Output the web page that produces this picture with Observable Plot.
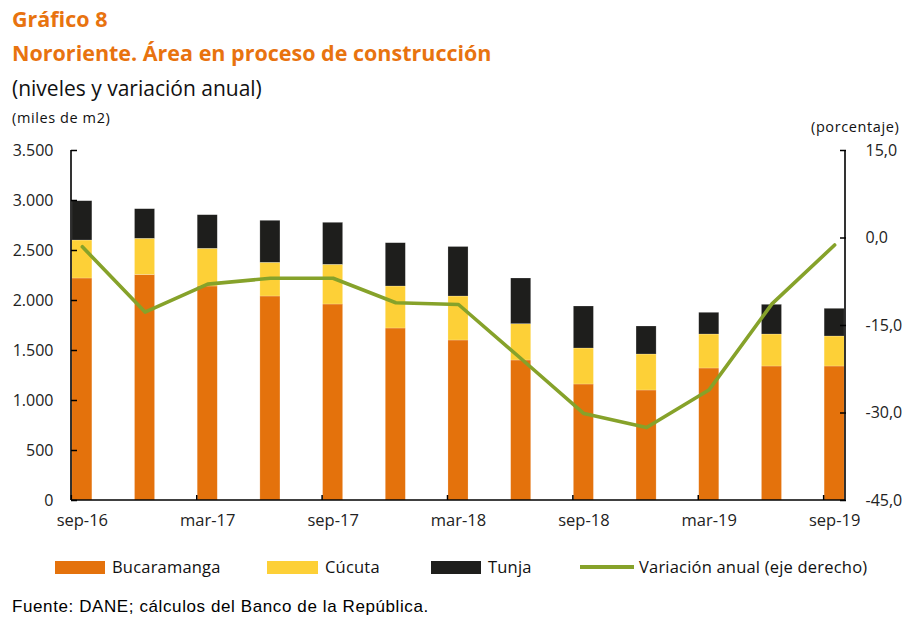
<!DOCTYPE html>
<html>
<head>
<meta charset="utf-8">
<script src="https://cdn.jsdelivr.net/npm/d3@7"></script>
<script src="https://cdn.jsdelivr.net/npm/@observablehq/plot@0.6"></script>
<style>
  html, body { margin: 0; padding: 0; background: #fff; }
  #wrap { position: relative; width: 909px; height: 619px; overflow: hidden; font-family: "Open Sans", sans-serif; color: #1a1a1a; }
  .abs { position: absolute; white-space: nowrap; }
  .t1 { font-family: "Open Sans", sans-serif; font-weight: bold; color: #E8730F; font-size: 21.5px; line-height: 22px; }
  .t2 { font-family: "Open Sans", sans-serif; font-size: 21px; line-height: 21px; color: #111; }
  .unit { font-size: 14.5px; line-height: 15px; color: #111; letter-spacing: 0.6px; }
  .leg { font-size: 16.5px; line-height: 17px; color: #111; letter-spacing: 0.2px; }
  .sw { position: absolute; height: 13px; }
  .src { font-family: "Liberation Sans", Arial, sans-serif; font-size: 17px; line-height: 17px; color: #000; letter-spacing: 0.6px; }
  #chart { position: absolute; left: 0; top: 100px; }
</style>
</head>
<body>
<div id="wrap">
  <div class="abs t1" style="left:12px; top:8px;">Gráfico 8</div>
  <div class="abs t1" style="left:12px; top:42px;">Nororiente. Área en proceso de construcción</div>
  <div class="abs t2" style="left:12px; top:78px;">(niveles y variación anual)</div>
  <div class="abs unit" style="left:12px; top:110px;">(miles de m2)</div>
  <div class="abs unit" style="left:811px; top:119px;">(porcentaje)</div>
  <div id="chart"></div>
  <div id="legend"></div>
  <div class="abs src" style="left:12px; top:598px;">Fuente: DANE; cálculos del Banco de la República.</div>
</div>
<script>
// ---- data ----
const periods = ["sep-16","dec-16","mar-17","jun-17","sep-17","dec-17","mar-18","jun-18","sep-18","dec-18","mar-19","jun-19","sep-19"];
const tickLabels = ["sep-16","mar-17","sep-17","mar-18","sep-18","mar-19","sep-19"];
const bucaramanga = [2220, 2255, 2140, 2040, 1960, 1720, 1600, 1400, 1160, 1100, 1320, 1340, 1340];
const cucuta      = [380, 362, 377, 337, 397, 420, 440, 363, 360, 360, 340, 320, 300];
const tunja       = [393, 296, 336, 420, 420, 433, 495, 457, 420, 280, 217, 297, 277];
const variacion   = [-1.5, -12.7, -7.9, -6.9, -6.9, -11.1, -11.4, -20.7, -30.1, -32.5, -26.0, -11.3, -1.2];
const seriesNames = ["Bucaramanga", "Cúcuta", "Tunja"];
const seriesColors = ["#E4720C", "#FDD037", "#1E1E1C"];
const lineName = "Variación anual (eje derecho)";
const lineColor = "#86A22A";
const leftTicks = [0, 500, 1000, 1500, 2000, 2500, 3000, 3500];
const rightTicks = [-45, -30, -15, 0, 15];

// ---- dual axis mapping ----
const leftMax = 3500, rMin = -45, rMax = 15;
const toLeft = v => (v - rMin) / (rMax - rMin) * leftMax;
const fromLeft = y => y / leftMax * (rMax - rMin) + rMin;

const long = [];
periods.forEach((p, i) => {
  [bucaramanga, cucuta, tunja].forEach((arr, k) => long.push({period: p, series: seriesNames[k], value: arr[i]}));
});
const lineData = periods.map((p, i) => ({period: p, v: variacion[i]}));

const loc = d3.formatLocale({decimal: ",", thousands: ".", grouping: [3], currency: ["", ""], minus: "-"});
const fmtLeft = loc.format(",.0f");
const fmtRight = v => loc.format(".1f")(v);

function axisLines(index, scales, values, dims) {
  const g = d3.create("svg:g").attr("stroke", "#000").attr("stroke-width", 1.6);
  const {width, height, marginLeft, marginRight, marginTop, marginBottom} = dims;
  g.append("line").attr("x1", marginLeft).attr("x2", marginLeft).attr("y1", marginTop).attr("y2", height - marginBottom);
  g.append("line").attr("x1", width - marginRight).attr("x2", width - marginRight).attr("y1", marginTop).attr("y2", height - marginBottom);
  g.append("line").attr("x1", marginLeft).attr("x2", width - marginRight).attr("y1", height - marginBottom).attr("y2", height - marginBottom);
  return g.node();
}

const chart = Plot.plot({
  width: 909,
  height: 440,
  marginTop: 50,
  marginBottom: 40,
  marginLeft: 71,
  marginRight: 64,
  style: {fontFamily: "'Open Sans', sans-serif", fontSize: "16px", color: "#222", background: "transparent", overflow: "visible"},
  x: {type: "band", domain: periods, paddingInner: 0.68, paddingOuter: 0.013, align: 0.5, round: false, label: null},
  y: {domain: [0, leftMax], label: null},
  color: {domain: seriesNames, range: seriesColors},
  marks: [
    Plot.barY(long, {x: "period", y: "value", fill: "series", order: seriesNames, stroke: "#fff", strokeOpacity: 0.35, strokeWidth: 0.6}),
    Plot.line(lineData, {x: "period", y: d => toLeft(d.v), stroke: lineColor, strokeWidth: 3.6, strokeLinejoin: "round"}),
    axisLines,
    Plot.axisY({anchor: "left", ticks: leftTicks, tickFormat: fmtLeft, tickSize: 0, tickPadding: 18, fontSize: 16}),
    Plot.axisY({anchor: "left", ticks: leftTicks, tickFormat: () => "", tickSize: -6, stroke: "#000", strokeWidth: 1.5}),
    Plot.axisY({anchor: "right", ticks: rightTicks.map(toLeft), tickFormat: y => fmtRight(fromLeft(y)), tickSize: 0, tickPadding: 20, fontSize: 16}),
    Plot.axisY({anchor: "right", ticks: rightTicks.map(toLeft), tickFormat: () => "", tickSize: -6, stroke: "#000", strokeWidth: 1.5}),
    Plot.axisX({ticks: tickLabels, tickSize: 0, tickPadding: 14, fontSize: 16.5}),
    Plot.axisX({ticks: tickLabels, tickFormat: () => "", tickSize: -5, dx: -11, stroke: "#000", strokeWidth: 1.5})
  ]
});
document.getElementById("chart").appendChild(chart);

// ---- legend ----
const legend = document.getElementById("legend");
const legendItems = [
  {name: seriesNames[0], color: seriesColors[0], sx: 55, sw: 50, tx: 112, type: "box"},
  {name: seriesNames[1], color: seriesColors[1], sx: 267, sw: 51, tx: 325, type: "box"},
  {name: seriesNames[2], color: seriesColors[2], sx: 431, sw: 50, tx: 488, type: "box"},
  {name: lineName, color: lineColor, sx: 580, sw: 54, tx: 639, type: "line"}
];
legendItems.forEach(it => {
  const s = document.createElement("div");
  s.className = "sw";
  s.style.left = it.sx + "px";
  s.style.width = it.sw + "px";
  s.style.background = it.color;
  if (it.type === "line") { s.style.top = "565px"; s.style.height = "4px"; }
  else { s.style.top = "561px"; }
  legend.appendChild(s);
  const t = document.createElement("div");
  t.className = "abs leg";
  t.style.left = it.tx + "px";
  t.style.top = "558px";
  t.textContent = it.name;
  legend.appendChild(t);
});
</script>
</body>
</html>
